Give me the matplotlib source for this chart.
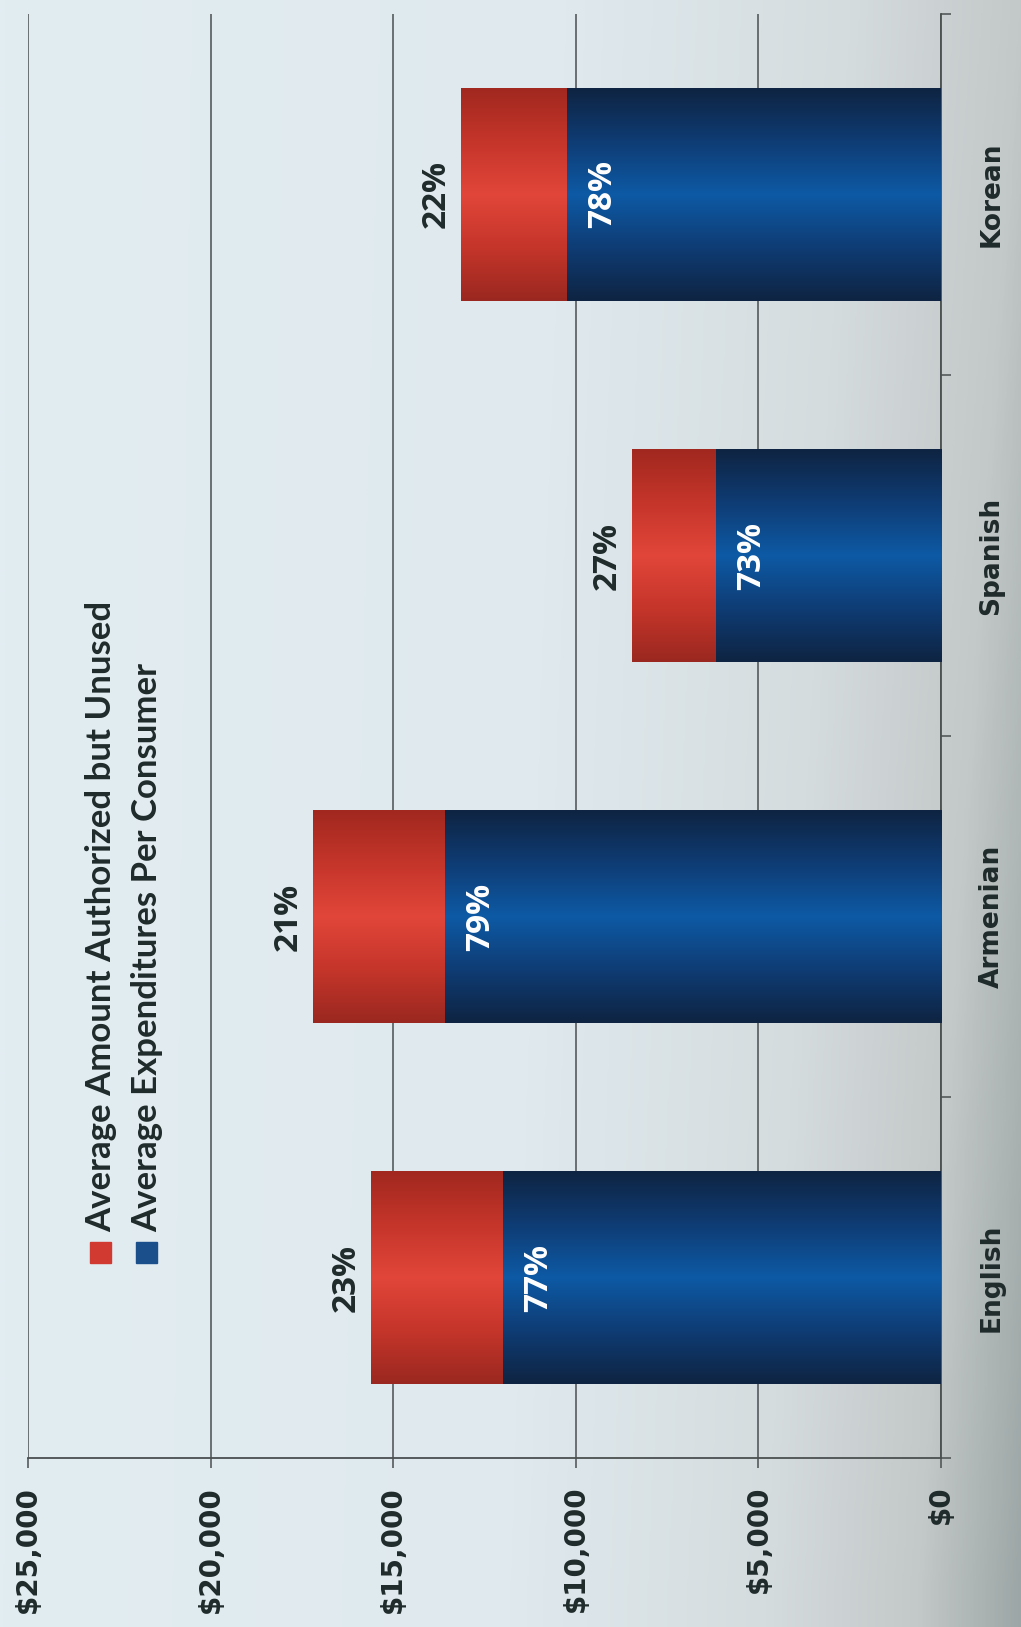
import numpy as np
import matplotlib
matplotlib.use("Agg")
import matplotlib.pyplot as plt
from matplotlib.colors import LinearSegmentedColormap
from matplotlib.patches import Rectangle

# ---- data ---------------------------------------------------------------
languages = ["English", "Armenian", "Spanish", "Korean"]
total_authorized = [15600, 17200, 8450, 13150]     # $ per consumer
spent_pct = [77, 79, 73, 78]                       # share actually spent
unused_pct = [23, 21, 27, 22]                      # share left unused
value_ticks = [0, 5000, 10000, 15000, 20000, 25000]

spent = [t * p / 100 for t, p in zip(total_authorized, spent_pct)]
unused = [t * p / 100 for t, p in zip(total_authorized, unused_pct)]

W, H = 1021, 1627
DPI = 100
TXT = "#1f2a2b"
GRID = "#4a4f50"

fig = plt.figure(figsize=(W / DPI, H / DPI), dpi=DPI)

# paper tone behind the chart, greying towards the right edge
bg = fig.add_axes([0, 0, 1, 1], zorder=-5)
bg.set_axis_off()
paper = LinearSegmentedColormap.from_list(
    "paper", [(0.0, "#e2edf2"), (0.5, "#dfe9ee"), (0.75, "#d5dcde"),
              (0.9, "#c3c8c8"), (1.0, "#9da6a6")])
xs = np.linspace(0, 1, 512)
ys = np.linspace(0, 1, 64)[:, None]
tone = xs[None, :] * (0.9 + 0.1 * (1 - ys))
bg.imshow(tone, cmap=paper, aspect="auto", extent=(0, 1, 0, 1),
          origin="lower", vmin=0, vmax=1)
bg.set_xlim(0, 1)
bg.set_ylim(0, 1)

ax = fig.add_axes([28 / W, 1 - 1458 / H, (941 - 28) / W, (1458 - 14) / H])
ax.set_facecolor("none")

blue_cmap = LinearSegmentedColormap.from_list(
    "bluebar", ["#0e2442", "#0f3c74", "#0d5aa5", "#0f3c74", "#0e2442"])
red_cmap = LinearSegmentedColormap.from_list(
    "redbar", ["#9a2820", "#c5352a", "#e2463a", "#c5352a", "#a1281f"])


def shade(patch, cmap):
    x0, y0 = patch.get_x(), patch.get_y()
    w, h = patch.get_width(), patch.get_height()
    grad = np.linspace(0, 1, 256).reshape(-1, 1)
    im = ax.imshow(grad, cmap=cmap, extent=(x0, x0 + w, y0, y0 + h),
                   origin="lower", aspect="auto", interpolation="bicubic",
                   zorder=3)
    im.set_clip_path(patch)


ypos = np.arange(len(languages))
bar_h = 0.59
blue_bars = ax.barh(ypos, spent, height=bar_h, color="#0f3f78", zorder=3)
red_bars = ax.barh(ypos, unused, left=spent, height=bar_h,
                   color="#c3342a", zorder=3)
for p in blue_bars:
    shade(p, blue_cmap)
for p in red_bars:
    shade(p, red_cmap)

# percentage labels: unused share beyond the bar end, spent share inside
pct_font = dict(rotation=90, ha="center", va="center", fontsize=24,
                fontweight="bold", family=["Open Sans", "DejaVu Sans"],
                textcoords="offset pixels", zorder=5)
for i in range(len(languages)):
    ax.annotate(f"{unused_pct[i]}%", xy=(total_authorized[i], ypos[i]),
                xytext=(-25, 0), color=TXT, **pct_font)
    ax.annotate(f"{spent_pct[i]}%", xy=(spent[i], ypos[i]),
                xytext=(36, 0), color="white", **pct_font)

# axes
ax.set_xlim(25000, 0)
ax.set_ylim(-0.5, len(languages) - 0.5)
ax.set_xticks(value_ticks)
ax.set_xticklabels([f"${v:,.0f}" for v in value_ticks], rotation=90,
                   fontsize=20, fontweight="bold", color=TXT)
ax.xaxis.grid(True, color=GRID, lw=1.1, zorder=0)
ax.set_axisbelow(True)
ax.tick_params(axis="x", direction="out", length=7, width=1.1,
               color=GRID, pad=13)

ax.yaxis.tick_right()
ax.set_yticks(ypos)
ax.set_yticklabels(languages, rotation=90, va="center", fontsize=19,
                   fontweight="bold", color=TXT)
ax.set_yticks(np.arange(len(languages) + 1) - 0.5, minor=True)
ax.tick_params(axis="y", which="major", length=0, pad=27)
ax.tick_params(axis="y", which="minor", direction="out", length=7,
               width=1.1, color=GRID)

for side in ("top", "left"):
    ax.spines[side].set_visible(False)
for side in ("bottom", "right"):
    ax.spines[side].set_color(GRID)
    ax.spines[side].set_linewidth(1.3)

# legend, drawn sideways to follow the page orientation
legend_items = [("Average Amount Authorized but Unused", "#d03a30", 101),
                ("Average Expenditures Per Consumer", "#1a4f8c", 147)]
for label, col, xc in legend_items:
    fig.patches.append(Rectangle(((xc - 11) / W, 1 - 1263 / H), 21 / W, 21 / H,
                                 transform=fig.transFigure, color=col))
    fig.text(xc / W, 1 - 1232 / H, label, rotation=90, ha="center",
             va="bottom", fontsize=25, fontweight="bold", color=TXT,
             family=["Lato", "DejaVu Sans"])

fig.savefig("out.png", dpi=DPI)
